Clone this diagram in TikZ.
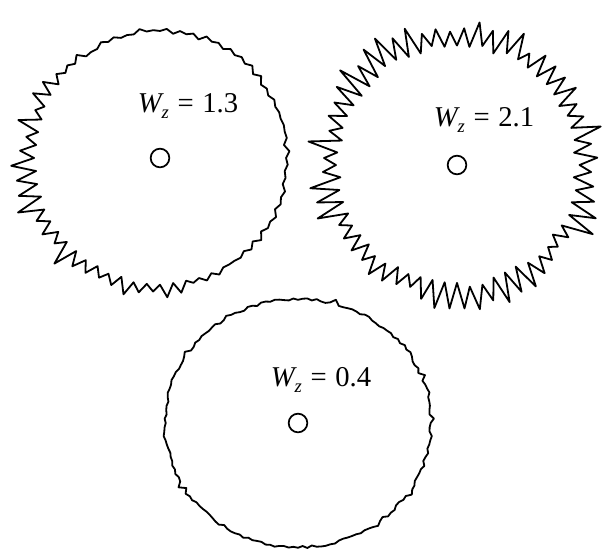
\documentclass[tikz,border=0pt]{standalone}
\usepackage{fontspec}
\setmainfont{Liberation Serif}
\usetikzlibrary{calc}
\tikzset{
  rim/.style={line width=1.35pt,line join=round},
  hub/.style={circle,draw,line width=1.3pt,minimum size=14pt,inner sep=0pt},
  wlabel/.style={font=\fontsize{21.5}{24}\selectfont}
}
\newcommand{\wz}[1]{\textit{W}\kern-0.08em\raisebox{-0.5ex}{\fontsize{14}{15}\selectfont\textit{z}}\hspace{0.3em}=\hspace{0.3em}#1}

\begin{document}
\begin{tikzpicture}[x=0.75pt,y=-0.75pt]
\useasboundingbox (0,0) rectangle (603,550);
\node[hub] (hubA) at (160,158) {};
\node[hub] (hubB) at (457,165) {};
\node[hub] (hubC) at (298,423) {};
\node[wlabel] (labA) at (188,106) {\wz{1.3}};
\node[wlabel] (labB) at (484,120) {\wz{2.1}};
\node[wlabel] (labC) at (321,380) {\wz{0.4}};

\pgfmathsetseed{11}
% W_z = 1.3: teeth mostly on the left and lower side
\foreach \k in {0,...,119}{
  \pgfmathsetmacro{\ang}{\k*3}
  \pgfmathsetmacro{\amp}{4+24*max(0,cos(\ang-150))}
  \pgfmathsetmacro{\rr}{126+isodd(\k)*\amp*(0.35+0.65*rnd)+1.5*rand}
  \coordinate (a\k) at ($(hubA)+(\ang:\rr)$);
}
\draw[rim] (a0) \foreach \k in {1,...,119}{ -- (a\k) } -- cycle;

% W_z = 2.1: long teeth all round
\foreach \k in {0,...,119}{
  \pgfmathsetmacro{\ang}{\k*3}
  \pgfmathsetmacro{\rr}{120+isodd(\k)*(12+20*rnd)+3*rand}
  \coordinate (b\k) at ($(hubB)+(\ang:\rr)$);
}
\draw[rim] (b0) \foreach \k in {1,...,119}{ -- (b\k) } -- cycle;

% W_z = 0.4: nearly smooth
\foreach \k in {0,...,179}{
  \pgfmathsetmacro{\ang}{\k*2}
  \pgfmathsetmacro{\rr}{128+1.5*rand+isodd(\k)*(rnd>0.75)*5*rnd}
  \coordinate (c\k) at ($(hubC)+({1.04*\rr*cos(\ang)},{0.97*\rr*sin(\ang)})$);
}
\draw[rim] (c0) \foreach \k in {1,...,179}{ -- (c\k) } -- cycle;
\end{tikzpicture}
\end{document}
